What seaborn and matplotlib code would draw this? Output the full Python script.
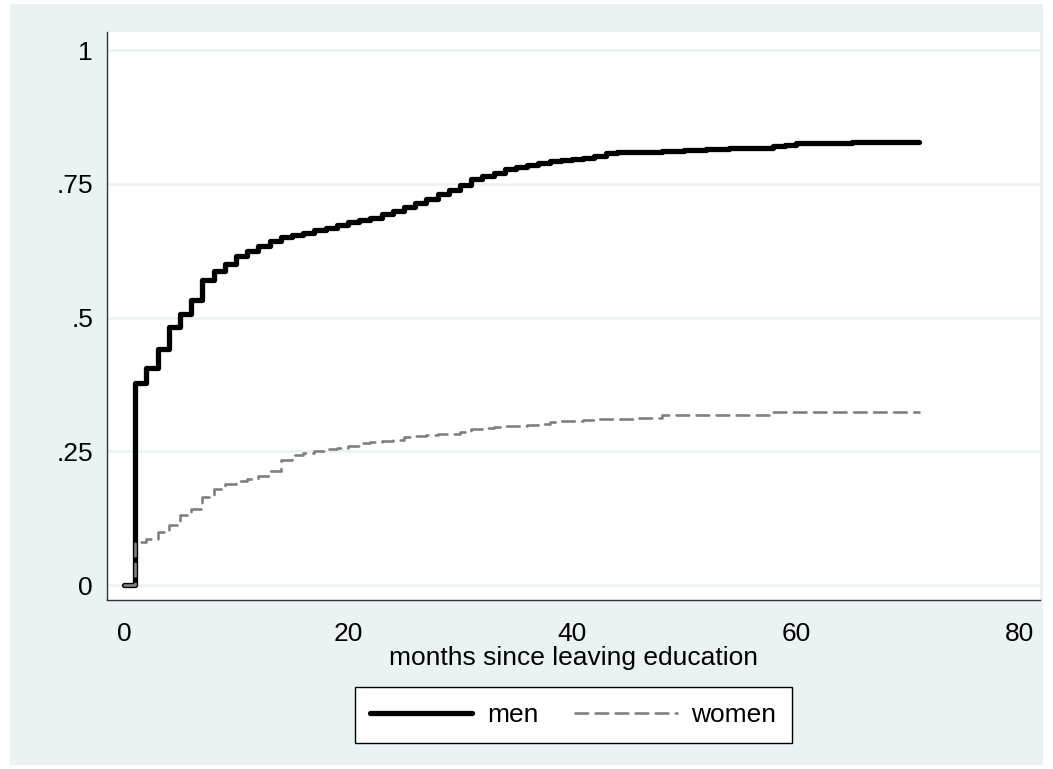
import matplotlib
matplotlib.use("Agg")
import matplotlib.pyplot as plt
from matplotlib.patches import Rectangle
import numpy as np
import pandas as pd
import seaborn as sns

# months since leaving education and cumulative proportions
months = list(range(0, 72))
men = [0.000, 0.377, 0.406, 0.441, 0.482, 0.506, 0.533, 0.570, 0.588, 0.601,
       0.616, 0.625, 0.634, 0.643, 0.650, 0.655, 0.659, 0.664, 0.668, 0.674,
       0.679, 0.682, 0.687, 0.694, 0.699, 0.707, 0.714, 0.722, 0.731, 0.739,
       0.748, 0.759, 0.765, 0.770, 0.777, 0.782, 0.786, 0.789, 0.792, 0.794,
       0.796, 0.799, 0.802, 0.807, 0.809, 0.809, 0.809, 0.810, 0.812, 0.812,
       0.813, 0.813, 0.815, 0.816, 0.817, 0.818, 0.818, 0.818, 0.820, 0.822,
       0.826, 0.826, 0.826, 0.826, 0.826, 0.828, 0.828, 0.828, 0.828, 0.828,
       0.828, 0.828]
women = [0.000, 0.081, 0.086, 0.100, 0.112, 0.130, 0.143, 0.164, 0.180, 0.188,
         0.194, 0.199, 0.203, 0.214, 0.233, 0.243, 0.246, 0.250, 0.254, 0.257,
         0.260, 0.265, 0.267, 0.269, 0.271, 0.276, 0.279, 0.281, 0.282, 0.283,
         0.286, 0.291, 0.294, 0.296, 0.297, 0.297, 0.299, 0.302, 0.304, 0.306,
         0.307, 0.308, 0.310, 0.310, 0.310, 0.310, 0.312, 0.313, 0.317, 0.317,
         0.317, 0.317, 0.317, 0.317, 0.317, 0.317, 0.317, 0.317, 0.323, 0.323,
         0.323, 0.323, 0.323, 0.323, 0.323, 0.323, 0.323, 0.323, 0.323, 0.323,
         0.323, 0.323]

x_ticks = [0, 20, 40, 60, 80]
y_ticks = [0, 0.25, 0.5, 0.75, 1]
y_tick_labels = ["0", ".25", ".5", ".75", "1"]

df = pd.DataFrame({"month": months, "men": men, "women": women})

sns.set_style("white")
plt.rcParams["font.family"] = ["Liberation Sans", "DejaVu Sans"]
plt.rcParams["text.color"] = "black"
plt.rcParams["axes.labelcolor"] = "black"

bg = "#EAF2F3"
fig = plt.figure(figsize=(10.53, 7.69), dpi=100)
fig.patch.set_facecolor("white")
fig.patches.append(Rectangle((10 / 1053, 4 / 769), 1033 / 1053, 761 / 769,
                             transform=fig.transFigure, facecolor=bg,
                             edgecolor="none", zorder=-10))

ax = fig.add_axes([107 / 1053, (769 - 600) / 769, 933 / 1053, 568 / 769])
ax.set_zorder(1)
ax.set_facecolor("white")

sns.lineplot(data=df, x="month", y="men", ax=ax, color="black", linewidth=3.8,
             drawstyle="steps-post", solid_capstyle="round", solid_joinstyle="round",
             label="men", legend=False)
sns.lineplot(data=df, x="month", y="women", ax=ax, color="#808080", linewidth=1.9,
             drawstyle="steps-post", linestyle=(0, (4.8, 2.8)), dash_capstyle="round",
             label="women", legend=False)

ax.set_xlim(-1.52, 81.8)
ax.set_ylim(-0.028, 1.034)
ax.set_xticks(x_ticks)
ax.set_yticks(y_ticks)
ax.set_yticklabels(y_tick_labels)
ax.yaxis.grid(True, color=bg, linewidth=1.8)
ax.set_axisbelow(True)

for side in ["top", "right"]:
    ax.spines[side].set_visible(False)
for side in ["left", "bottom"]:
    ax.spines[side].set_color("#333333")
    ax.spines[side].set_linewidth(1.0)

ax.tick_params(axis="both", direction="out", length=6, width=1.0, color="#333333",
               labelsize=19, labelcolor="black")
ax.tick_params(axis="x", pad=10)
ax.tick_params(axis="y", pad=4)
ax.set_xlabel("months since leaving education", fontsize=19, labelpad=0)
ax.set_ylabel("")

handles, labels = ax.get_legend_handles_labels()
leg = fig.legend(handles, labels, loc="center", bbox_to_anchor=(573.5 / 1053, 54 / 769),
                 ncol=2, fontsize=19, frameon=True, fancybox=False, shadow=False,
                 handlelength=3.85, handletextpad=0.56, columnspacing=1.4,
                 borderpad=0.6)
leg.get_frame().set_edgecolor("black")
leg.get_frame().set_linewidth(1.0)
leg.get_frame().set_facecolor("white")
leg.get_frame().set_alpha(1)

fig.savefig("out.png", dpi=100)
